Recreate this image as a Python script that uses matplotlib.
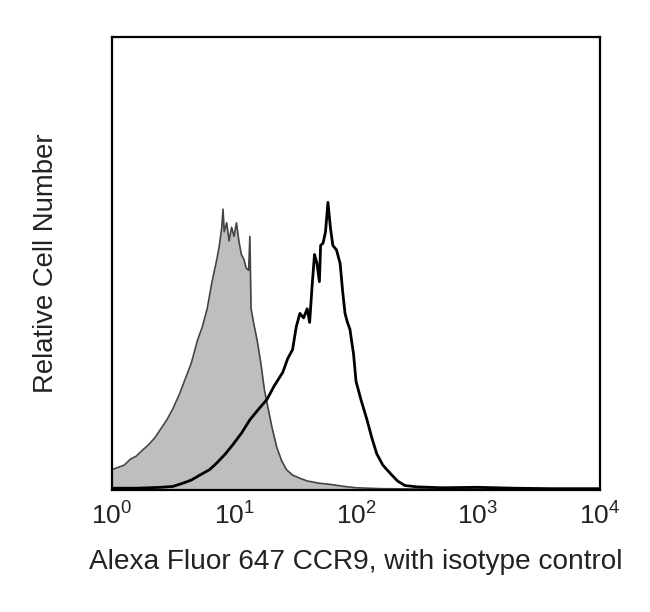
import matplotlib
matplotlib.use("Agg")
import matplotlib.pyplot as plt
import numpy as np

plt.rcParams['font.family'] = ['Liberation Sans', 'DejaVu Sans']
plt.rcParams['mathtext.default'] = 'regular'

# Isotype control (gray filled) : log10 intensity, relative count
iso_log = [0.00, 0.05, 0.10, 0.15, 0.20, 0.25, 0.30, 0.35, 0.40, 0.45, 0.50, 0.55,
           0.60, 0.65, 0.70, 0.74, 0.78, 0.82, 0.86, 0.88, 0.90, 0.91, 0.92, 0.94,
           0.96, 0.98, 1.00, 1.02, 1.04, 1.06, 1.08, 1.10, 1.12, 1.13, 1.14, 1.16,
           1.19, 1.22, 1.25, 1.28, 1.31, 1.35, 1.39, 1.43, 1.48, 1.54, 1.60, 1.70,
           1.80, 1.90, 2.00, 2.20, 2.60, 3.00, 3.50, 4.00]
iso_val = [0.045, 0.050, 0.055, 0.068, 0.075, 0.088, 0.100, 0.115, 0.135, 0.155, 0.180, 0.210,
           0.245, 0.280, 0.330, 0.360, 0.400, 0.460, 0.510, 0.540, 0.580, 0.620, 0.570, 0.590,
           0.550, 0.580, 0.560, 0.590, 0.550, 0.520, 0.510, 0.490, 0.485, 0.560, 0.400, 0.370,
           0.330, 0.280, 0.220, 0.180, 0.140, 0.095, 0.065, 0.045, 0.033, 0.026, 0.020, 0.015,
           0.012, 0.008, 0.005, 0.003, 0.002, 0.002, 0.002, 0.002]

# Alexa Fluor 647 CCR9 (black outline)
ccr9_log = [0.00, 0.20, 0.40, 0.50, 0.58, 0.65, 0.72, 0.80, 0.86, 0.93, 0.99, 1.06,
            1.13, 1.20, 1.27, 1.33, 1.40, 1.44, 1.48, 1.51, 1.54, 1.57, 1.60, 1.62,
            1.64, 1.66, 1.68, 1.70, 1.71, 1.73, 1.75, 1.77, 1.79, 1.81, 1.84, 1.87,
            1.89, 1.91, 1.93, 1.95, 1.98, 2.00, 2.04, 2.09, 2.13, 2.17, 2.22, 2.28,
            2.34, 2.40, 2.50, 2.70, 3.00, 3.30, 3.60, 4.00]
ccr9_val = [0.004, 0.004, 0.006, 0.008, 0.015, 0.022, 0.033, 0.045, 0.060, 0.080, 0.100, 0.125,
            0.155, 0.178, 0.200, 0.230, 0.260, 0.290, 0.310, 0.360, 0.390, 0.380, 0.400, 0.370,
            0.450, 0.520, 0.500, 0.460, 0.540, 0.545, 0.570, 0.635, 0.580, 0.540, 0.530, 0.500,
            0.440, 0.390, 0.370, 0.355, 0.300, 0.240, 0.200, 0.155, 0.115, 0.080, 0.055, 0.037,
            0.020, 0.010, 0.007, 0.005, 0.006, 0.004, 0.003, 0.003]

x_ticks = [1, 10, 100, 1000, 10000]

fig = plt.figure(figsize=(6.5, 6.12), dpi=100)
ax = fig.add_axes([0.1723, 0.1993, 0.7508, 0.7402])

iso_x = 10 ** np.array(iso_log)
ccr9_x = 10 ** np.array(ccr9_log)

ax.fill_between(iso_x, 0, iso_val, color='#bebebe', linewidth=0)
ax.plot(iso_x, iso_val, color='#444444', linewidth=1.2)
ax.plot(ccr9_x, ccr9_val, color='black', linewidth=2.0)

ax.set_xscale('log')
ax.set_xlim(1, 10000)
ax.set_ylim(0, 1.0)
ax.set_xticks(x_ticks)
ax.minorticks_off()
ax.tick_params(axis='x', length=0, pad=9, labelsize=19, labelcolor='#222222')
ax.set_yticks([])
for s in ax.spines.values():
    s.set_linewidth(1.6)

ax.set_xlabel('Alexa Fluor 647 CCR9, with isotype control', fontsize=20.2,
              labelpad=14, color='#222222')
ax.set_ylabel('Relative Cell Number', fontsize=19.8, labelpad=38, color='#222222')

fig.savefig('out.png', dpi=100)
